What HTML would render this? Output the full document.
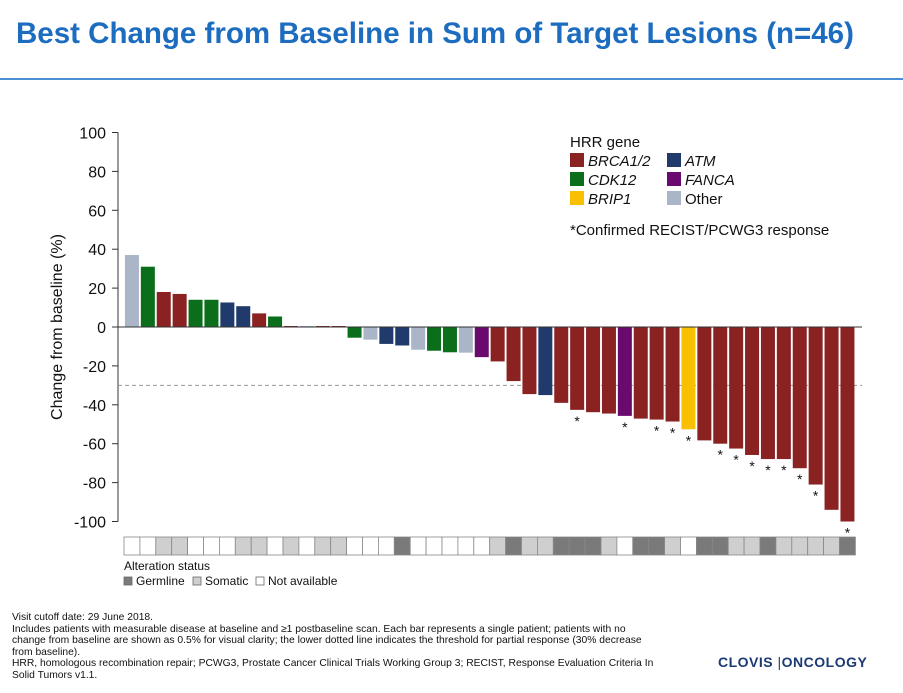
<!DOCTYPE html>
<html><head><meta charset="utf-8"><style>
body{margin:0;width:903px;height:693px;background:#fff;font-family:"Liberation Sans",sans-serif;overflow:hidden;position:relative}
#title{position:absolute;left:16px;top:17px;font-size:29.5px;font-weight:bold;color:#1c6cc0;margin:0}
#rule{position:absolute;left:0;top:78px;width:903px;height:2px;background:#4a8fd4}
#foot{position:absolute;left:12px;top:612px;font-size:10.3px;line-height:11.6px;color:#111;width:650px}
#logo{position:absolute;left:718px;top:654px;font-size:14px;font-weight:bold;color:#1b3a73;letter-spacing:0.5px}
svg{position:absolute;left:0;top:0}
</style></head><body>
<h1 id="title">Best Change from Baseline in Sum of Target Lesions (n=46)</h1>
<div id="rule"></div>
<svg id="chart" width="903" height="693"></svg>
<div id="foot">Visit cutoff date: 29 June 2018.<br>Includes patients with measurable disease at baseline and ≥1 postbaseline scan. Each bar represents a single patient; patients with no change from baseline are shown as 0.5% for visual clarity; the lower dotted line indicates the threshold for partial response (30% decrease from baseline).<br>HRR, homologous recombination repair; PCWG3, Prostate Cancer Clinical Trials Working Group 3; RECIST, Response Evaluation Criteria In Solid Tumors v1.1.</div>
<div id="logo">CLOVIS <span style="font-weight:normal">|</span>ONCOLOGY</div>
<script>
const values=[37,31,18,17,14,14,12.6,10.7,7,5.4,0.5,0.5,0.5,0.5,-5.5,-6.5,-8.7,-9.5,-11.7,-12.2,-13,-13.2,-15.5,-17.7,-27.8,-34.5,-35,-39,-42.6,-43.8,-44.5,-45.7,-47.1,-47.6,-48.6,-52.6,-58.3,-60,-62.5,-65.8,-67.9,-67.9,-72.6,-81,-94,-100];
const genes=["O","C","B","B","C","C","A","A","B","C","B","O","B","B","C","O","A","A","O","C","C","O","F","B","B","B","A","B","B","B","B","F","B","B","B","R","B","B","B","B","B","B","B","B","B","B"];
const confirmed=[0,0,0,0,0,0,0,0,0,0,0,0,0,0,0,0,0,0,0,0,0,0,0,0,0,0,0,0,1,0,0,1,0,1,1,1,0,1,1,1,1,1,1,1,0,1];
const status="WWSSWWWSSWSWSSWWWGWWWWWSGSSGGGSWGGSWGGSSGSSSSG".split("");
const yTicks=[100,80,60,40,20,0,-20,-40,-60,-80,-100];
const colors={B:"#8b2222",C:"#0a6e1a",A:"#1f3a6b",F:"#6b0a6e",R:"#f8c000",O:"#aab6c8"};
const stColors={W:"#fff",S:"#cfcfcf",G:"#7a7a7a"};
const NS="http://www.w3.org/2000/svg";
const svg=document.getElementById("chart");
const x0=124,pitch=15.9;
const y=v=>327-v*1.945;
const xc=i=>x0+i*pitch+pitch/2;
function mk(t,a,p){const e=document.createElementNS(NS,t);for(const k in a)e.setAttribute(k,a[k]);(p||svg).appendChild(e);return e;}
let ax=mk("line",{x1:118,y1:y(100),x2:118,y2:y(-100),stroke:"#333"});


yTicks.forEach(t=>{
 let l=mk("line",{x1:112,x2:118,y1:y(t),y2:y(t),stroke:"#333"});
 
 
 let tx=mk("text",{x:106,y:y(t)+6,"text-anchor":"end","font-size":16,fill:"#111"});
 tx.textContent=t;
 
 
});
let yt=mk("text",{x:0,y:0,transform:"translate(62,327) rotate(-90)","text-anchor":"middle","font-size":16,fill:"#111"});
yt.textContent="Change from baseline (%)";


let th=mk("line",{x1:118,x2:862,y1:y(-30),y2:y(-30),stroke:"#999","stroke-dasharray":"4,3"});


values.forEach((v,i)=>{
 const top=Math.min(y(v),y(0)),h=Math.abs(y(v)-y(0));
 let r=mk("rect",{x:xc(i)-7,y:top,width:14,height:Math.max(h,1),fill:colors[genes[i]]});
 
 
 if(confirmed[i]){
  let s=mk("text",{x:xc(i),y:y(v)+16,"text-anchor":"middle","font-size":14,fill:"#111"});
  s.textContent="*";
  
  
 }
 let c=mk("rect",{x:x0+i*pitch,y:537,width:pitch,height:18,fill:stColors[status[i]],stroke:"#888","stroke-width":0.8});
 
 
});
let zl=mk("line",{x1:118,x2:862,y1:y(0),y2:y(0),stroke:"#333"});


const lg=mk("g",{});


let lt=mk("text",{x:570,y:147,"font-size":15,fill:"#111"},lg);lt.textContent="HRR gene";
const items=[["B","BRCA1/2",570,160,1],["A","ATM",667,160,1],["C","CDK12",570,179,1],["F","FANCA",667,179,1],["R","BRIP1",570,198,1],["O","Other",667,198,0]];
items.forEach(([k,n,lx,ly,it])=>{
 let g=mk("g",{},lg);
 
 
 mk("rect",{x:lx,y:ly-7,width:14,height:14,fill:colors[k]},g);
 let t=mk("text",{x:lx+18,y:ly+6,"font-size":15,fill:"#111","font-style":it?"italic":"normal"},g);t.textContent=n;
});
let cr=mk("text",{x:570,y:235,"font-size":15,fill:"#111"});cr.textContent="*Confirmed RECIST/PCWG3 response";


let sl=mk("g",{});


let st=mk("text",{x:124,y:570,"font-size":12,fill:"#111"},sl);st.textContent="Alteration status";
[["G","Germline",124],["S","Somatic",193],["W","Not available",256]].forEach(([k,n,lx])=>{
 mk("rect",{x:lx,y:577,width:8,height:8,fill:stColors[k],stroke:"#666","stroke-width":0.8},sl);
 let t=mk("text",{x:lx+12,y:585,"font-size":12,fill:"#111"},sl);t.textContent=n;
});
</script>
</body></html>
